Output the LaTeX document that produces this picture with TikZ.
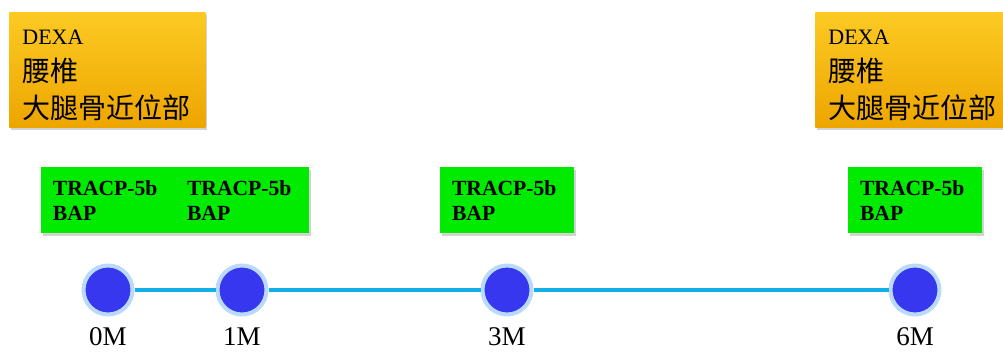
\documentclass[tikz,border=0pt]{standalone}
\usepackage{fontspec}
\setmainfont{Liberation Serif}
\newfontfamily\cjk{Noto Sans CJK SC}
\usetikzlibrary{positioning}
\usetikzlibrary{shadows}
\definecolor{dexatop}{RGB}{252,202,35}
\definecolor{dexabot}{RGB}{238,165,0}
\definecolor{markgreen}{RGB}{0,235,0}
\definecolor{dotblue}{RGB}{55,55,240}
\definecolor{glowblue}{RGB}{185,218,252}
\definecolor{lineblue}{RGB}{20,175,230}
\tikzset{
  dexa/.style={anchor=north west,top color=dexatop,bottom color=dexabot,minimum width=98pt,minimum height=57.5pt,text width=85pt,inner xsep=6.5pt,inner ysep=0pt,align=left,font=\fontsize{14}{18.5}\selectfont,drop shadow={shadow xshift=1pt,shadow yshift=-1.5pt,opacity=0.35}},
  marker/.style={fill=markgreen,minimum width=67pt,minimum height=33pt,text width=55pt,inner xsep=6pt,align=left,font=\bfseries\fontsize{10.8}{12.5}\selectfont,drop shadow={shadow xshift=1pt,shadow yshift=-1.5pt,opacity=0.35}},
  visit/.style={circle,fill=dotblue,draw=glowblue,line width=2pt,minimum size=24.5pt,inner sep=0pt},
  month/.style={inner sep=0pt,font=\fontsize{13.5}{14}\selectfont},
  timeline/.style={draw=lineblue,line width=2pt}
}
\newcommand{\dexatext}{\rule{0pt}{12.5pt}{\fontsize{11}{18.5}\selectfont DEXA}\\{\cjk 腰椎}\\{\cjk 大腿骨近位部}}
\begin{document}
\begin{tikzpicture}[x=0.5pt,y=-0.5pt,node distance=5pt]
  \useasboundingbox (0,0) rectangle (1003,356);
  \node[dexa](dexa0) at (9,12) {\dexatext};
  \node[dexa](dexa6) at (815,12) {\dexatext};
  \node[visit](visit0) at (108,290) {};
  \node[visit](visit1) at (242,290) {};
  \node[visit](visit3) at (507,290) {};
  \node[visit](visit6) at (915,290) {};
  \node[above=15pt of visit0,marker](marker0) {TRACP-5b\\BAP};
  \node[above=15pt of visit1,marker](marker1) {TRACP-5b\\BAP};
  \node[above=15pt of visit3,marker](marker3) {TRACP-5b\\BAP};
  \node[above=15pt of visit6,marker](marker6) {TRACP-5b\\BAP};
  \node[below=5.5pt of visit0,month](month0) {0M};
  \node[below=5.5pt of visit1,month](month1) {1M};
  \node[below=5.5pt of visit3,month](month3) {3M};
  \node[below=5.5pt of visit6,month](month6) {6M};
  \draw[timeline] (visit0)--(visit1);
  \draw[timeline] (visit1)--(visit3);
  \draw[timeline] (visit3)--(visit6);
\end{tikzpicture}
\end{document}
